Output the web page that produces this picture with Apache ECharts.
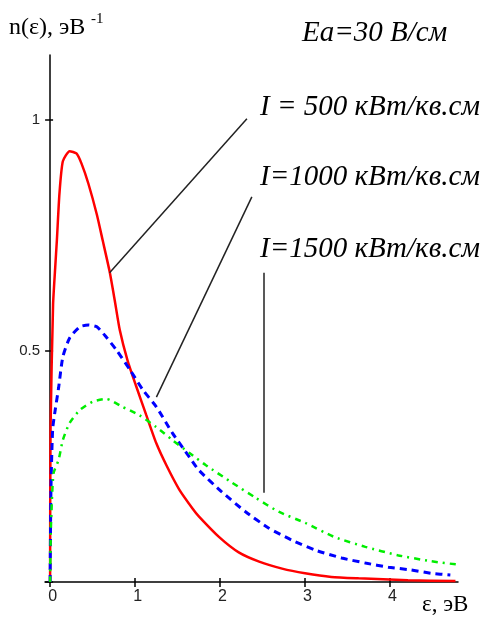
<!DOCTYPE html>
<html>
<head>
<meta charset="utf-8">
<script src="https://cdn.jsdelivr.net/npm/echarts@6/dist/echarts.min.js"></script>
<style>
    html, body { margin: 0; padding: 0; background: #fff; }
    #chart { width: 490px; height: 619px; }
</style>
</head>
<body>
<div id="chart"></div>
<script>
// Функция распределения n(ε) при Ea = 30 В/см, три интенсивности
const eps500 = [0, 0.005, 0.035, 0.06, 0.08, 0.11, 0.15, 0.23, 0.31, 0.37, 0.45, 0.55, 0.62, 0.70, 0.76, 0.82, 0.91, 1.01, 1.13, 1.25, 1.37, 1.52, 1.68, 1.75, 1.99, 2.22, 2.46, 2.73, 3.0, 3.31, 3.63, 4.21, 4.77];
const n500 = [0, 0.33, 0.6, 0.68, 0.74, 0.84, 0.91, 0.932, 0.927, 0.905, 0.862, 0.795, 0.738, 0.672, 0.61, 0.545, 0.48, 0.425, 0.362, 0.30, 0.252, 0.2, 0.158, 0.142, 0.097, 0.064, 0.044, 0.029, 0.019, 0.011, 0.008, 0.004, 0.002];

const eps1000 = [0, 0.01, 0.03, 0.06, 0.10, 0.15, 0.23, 0.35, 0.45, 0.55, 0.66, 0.78, 0.94, 1.09, 1.25, 1.44, 1.64, 1.75, 2.02, 2.30, 2.57, 2.84, 3.12, 3.43, 3.71, 3.98, 4.25, 4.48, 4.71];
const n1000 = [0, 0.2, 0.33, 0.372, 0.42, 0.487, 0.528, 0.552, 0.556, 0.552, 0.53, 0.502, 0.459, 0.416, 0.379, 0.322, 0.27, 0.242, 0.195, 0.152, 0.117, 0.091, 0.069, 0.052, 0.041, 0.032, 0.026, 0.019, 0.015];

const eps1500 = [0, 0.01, 0.04, 0.10, 0.15, 0.23, 0.35, 0.50, 0.66, 0.85, 1.05, 1.25, 1.44, 1.64, 1.83, 2.14, 2.42, 2.69, 3.0, 3.35, 3.71, 4.09, 4.48, 4.83];
const n1500 = [0, 0.12, 0.235, 0.264, 0.307, 0.344, 0.372, 0.39, 0.396, 0.379, 0.361, 0.335, 0.307, 0.279, 0.253, 0.215, 0.182, 0.152, 0.128, 0.097, 0.076, 0.058, 0.045, 0.037];

const xTicks = [0, 1, 2, 3, 4];
const yTicks = [0, 0.5, 1];
const yLabels = [0.5, 1];
const seriesNames = ['I = 500 кВт/кв.см', 'I=1000 кВт/кв.см', 'I=1500 кВт/кв.см'];

// выноски от подписей к кривым (в координатах графика)
const leaders = [
    [[0.70, 0.669], [2.316, 1.002]],
    [[1.251, 0.400], [2.374, 0.833]],
    [[2.515, 0.193], [2.515, 0.669]]
];

function pairs(xs, ys) {
    return xs.map((x, i) => [x, ys[i]]);
}

const chart = echarts.init(document.getElementById('chart'));

const serifItalic = 'italic 29px "Liberation Serif", "DejaVu Serif", serif';
const tickFont = { color: '#222', fontFamily: '"Liberation Sans", sans-serif', fontSize: 16 };

const option = {
    animation: false,
    grid: { left: 45, right: 32, top: 55, bottom: 37 },
    xAxis: [
        {
            type: 'value', min: -0.06, max: 4.8,
            axisLine: { onZero: false, lineStyle: { color: '#000', width: 1.5 } },
            axisTick: { customValues: xTicks, length: 5, lineStyle: { color: '#000', width: 1.5 } },
            axisLabel: { customValues: xTicks, margin: 7, padding: [0, 0, 0, 5], ...tickFont },
            splitLine: { show: false }
        },
        {
            type: 'value', min: -0.06, max: 4.8, position: 'bottom',
            axisLine: { show: false },
            axisTick: { customValues: xTicks, inside: true, length: 4, lineStyle: { color: '#000', width: 1.5 } },
            axisLabel: { show: false },
            splitLine: { show: false }
        }
    ],
    yAxis: [
        {
            type: 'value', min: 0, max: 1.14,
            axisLine: { onZero: true, lineStyle: { color: '#000', width: 1.5 } },
            axisTick: { customValues: yTicks, length: 5, lineStyle: { color: '#000', width: 1.5 } },
            axisLabel: { customValues: yLabels, margin: 5, ...tickFont, fontSize: 15 },
            splitLine: { show: false }
        },
        {
            type: 'value', min: 0, max: 1.14, position: 'left',
            axisLine: { show: false, onZero: true },
            axisTick: { customValues: yTicks, inside: true, length: 3, lineStyle: { color: '#000', width: 1.5 } },
            axisLabel: { show: false },
            splitLine: { show: false }
        }
    ],
    series: [
        {
            name: seriesNames[0],
            type: 'line',
            data: pairs(eps500, n500),
            smooth: 0.2,
            showSymbol: false,
            lineStyle: { color: '#ff0000', width: 2.5 },
            markLine: {
                silent: true,
                symbol: 'none',
                label: { show: false },
                lineStyle: { color: '#222', width: 1.5, type: 'solid' },
                data: leaders.map(l => [{ coord: l[0] }, { coord: l[1] }])
            }
        },
        {
            name: seriesNames[1],
            type: 'line',
            data: pairs(eps1000, n1000),
            smooth: 0.2,
            showSymbol: false,
            lineStyle: { color: '#0000ff', width: 3, type: [7, 5] }
        },
        {
            name: seriesNames[2],
            type: 'line',
            data: pairs(eps1500, n1500),
            smooth: 0.2,
            showSymbol: false,
            lineStyle: { color: '#00ee00', width: 2.5, type: [6, 5, 2, 5] }
        }
    ],
    graphic: [
        { type: 'text', left: 9, top: 16, style: { text: 'n(ε), эВ', font: '24px "Liberation Serif", serif', fill: '#000' } },
        { type: 'text', left: 91, top: 12, style: { text: '-1', font: '15px "Liberation Serif", serif', fill: '#000' } },
        { type: 'text', left: 302, top: 19, style: { text: 'Ea=30 В/см', font: serifItalic, fill: '#000' } },
        { type: 'text', left: 260, top: 93, style: { text: seriesNames[0], font: serifItalic, fill: '#000' } },
        { type: 'text', left: 260, top: 163, style: { text: seriesNames[1], font: serifItalic, fill: '#000' } },
        { type: 'text', left: 260, top: 235, style: { text: seriesNames[2], font: serifItalic, fill: '#000' } },
        { type: 'text', left: 422, top: 593, style: { text: 'ε, эВ', font: '23px "Liberation Serif", serif', fill: '#000' } }
    ]
};

chart.setOption(option);
</script>
</body>
</html>
